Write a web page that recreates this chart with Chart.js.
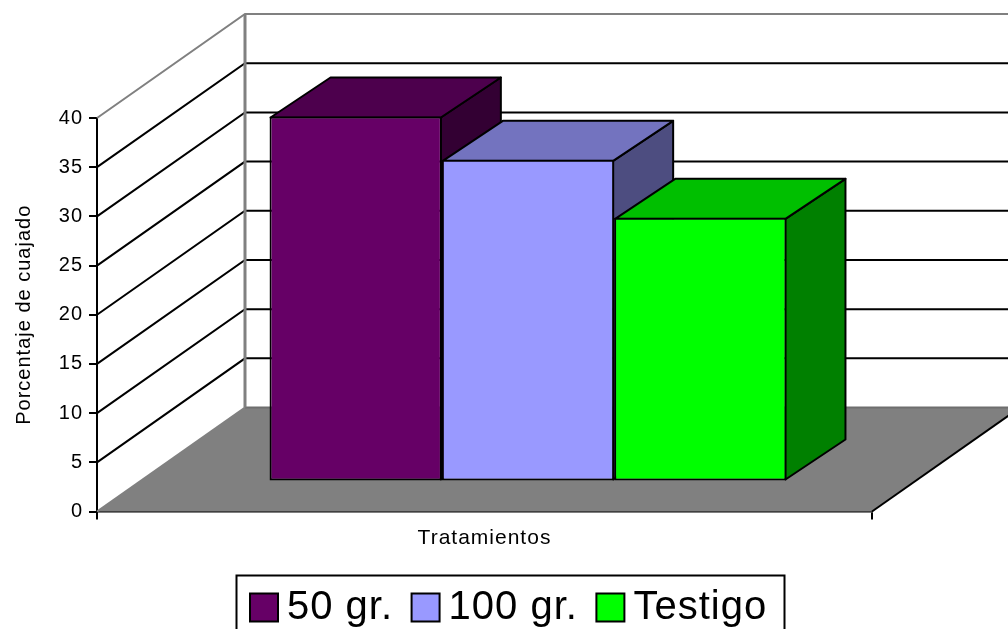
<!DOCTYPE html>
<html lang="es">
<head>
  <meta charset="UTF-8" />
  <title>Porcentaje de cuajado</title>
  <script src="https://cdn.jsdelivr.net/npm/chart.js"></script>
  <style>
    html, body { margin: 0; padding: 0; background: #fff; overflow: hidden; }
    canvas { display: block; }
  </style>
</head>
<body>
  <canvas id="cuajadoChart" width="1008" height="629"></canvas>

  <script>
    const categories = [''];
    const seriesNames = ['50 gr.', '100 gr.', 'Testigo'];
    const values50 = [37.1];
    const values100 = [32.7];
    const valuesTestigo = [26.8];

    const frontColours = ['#660066', '#9999ff', '#00ff00'];
    const topColours = ['#4d004d', '#7373bf', '#00bf00'];
    const sideColours = ['#330033', '#4d4d80', '#008000'];

    // oblique projection: wall depth, bar depth, and where the bars stand on the floor
    const wallDx = 148, wallDy = -104;
    const barDx = 60, barDy = -40;
    const standDx = 43.5, standDy = -30;
    // bar borders are drawn inside the rectangle, the 3D faces meet their centre line
    const borderInset = 1;

    function poly(ctx, pts, fill, stroke, lw) {
      ctx.beginPath();
      pts.forEach((p, i) => i ? ctx.lineTo(p[0], p[1]) : ctx.moveTo(p[0], p[1]));
      ctx.closePath();
      if (fill) { ctx.fillStyle = fill; ctx.fill(); }
      if (stroke) { ctx.strokeStyle = stroke; ctx.lineWidth = lw; ctx.lineJoin = 'round'; ctx.stroke(); }
    }

    function seg(ctx, pts, colour, lw) {
      ctx.beginPath();
      pts.forEach((p, i) => i ? ctx.lineTo(p[0], p[1]) : ctx.moveTo(p[0], p[1]));
      ctx.strokeStyle = colour;
      ctx.lineWidth = lw;
      ctx.stroke();
    }

    const box3d = {
      id: 'box3d',
      beforeLayout(chart) { chart.ctx.letterSpacing = '1px'; },
      afterLayout(chart) {
        // the legend sits lower and further right than the default slot
        const legend = chart.legend;
        legend.left = 231.5;
        legend.right = 1008;
        legend.top = 558;
      },
      beforeDraw(chart) { chart.ctx.letterSpacing = '1px'; },
      beforeDatasetsDraw(chart) {
        const ctx = chart.ctx;
        const area = chart.chartArea;
        const y = chart.scales.y;
        const w = chart.width;
        ctx.save();

        const y0 = y.getPixelForValue(0);
        const backX = area.left + wallDx;

        // floor
        poly(ctx, [[area.left, y0], [area.right, y0],
                   [area.right + wallDx, y0 + wallDy], [backX, y0 + wallDy]], '#808080');
        seg(ctx, [[area.left, y0], [backX, y0 + wallDy]], '#808080', 2);
        seg(ctx, [[backX, y0 + wallDy], [w, y0 + wallDy]], '#6e6e6e', 2);
        seg(ctx, [[area.right, y0], [area.right + wallDx, y0 + wallDy]], '#000', 2);

        // wall grid, the top one is grey like the frame
        y.ticks.forEach(t => {
          if (t.value === 0) return;
          const py = y.getPixelForValue(t.value);
          const colour = t.value === y.max ? '#808080' : '#000';
          seg(ctx, [[area.left, py], [backX, py + wallDy], [w, py + wallDy]], colour, 2);
        });
        seg(ctx, [[backX, y.getPixelForValue(y.max) + wallDy], [backX, y0 + wallDy]], '#808080', 3);

        // tops and sides go first so each front face covers the previous bar's side
        chart.data.datasets.forEach((ds, i) => {
          const bar = chart.getDatasetMeta(i).data[0];
          const left = bar.x - bar.width / 2 + standDx + borderInset;
          const right = bar.x + bar.width / 2 + standDx - borderInset;
          const top = bar.y + standDy + borderInset;
          const base = bar.base + standDy - borderInset;
          poly(ctx, [[right, top], [right + barDx, top + barDy],
                     [right + barDx, base + barDy], [right, base]], sideColours[i], '#000', 2);
          poly(ctx, [[left, top], [left + barDx, top + barDy],
                     [right + barDx, top + barDy], [right, top]], topColours[i], '#000', 2);
        });
        ctx.restore();

        ctx.save();
        ctx.translate(standDx, standDy);
      },
      afterDatasetsDraw(chart) {
        chart.ctx.restore();
      },
      afterDraw(chart) {
        const ctx = chart.ctx;
        ctx.save();
        ctx.strokeStyle = '#000';
        ctx.lineWidth = 2;
        ctx.strokeRect(236.5, 575.5, 548, 70);
        ctx.restore();
      }
    };

    const ctx = document.getElementById('cuajadoChart').getContext('2d');

    new Chart(ctx, {
      type: 'bar',
      plugins: [box3d],
      data: {
        labels: categories,
        datasets: [values50, values100, valuesTestigo].map((vals, i) => ({
          label: seriesNames[i],
          data: vals,
          backgroundColor: frontColours[i],
          borderColor: '#000',
          borderWidth: 2,
          borderSkipped: false,
          categoryPercentage: 0.667,
          barPercentage: 1
        }))
      },
      options: {
        responsive: false,
        animation: false,
        layout: { padding: { top: 118, right: 136, bottom: -40, left: 0 } },
        font: { family: "'Liberation Sans', Arial, sans-serif" },
        plugins: {
          tooltip: { enabled: false },
          legend: {
            position: 'bottom',
            align: 'start',
            labels: {
              color: '#000',
              font: { size: 40, family: "'Liberation Sans', Arial, sans-serif" },
              usePointStyle: true,
              pointStyle: 'rect',
              boxWidth: 6,
              boxHeight: 28,
              padding: 29.5
            }
          }
        },
        scales: {
          x: {
            afterFit(scale) { scale.height = 78; },
            border: { color: '#000', width: 2.5 },
            grid: { color: '#000', lineWidth: 2, tickLength: 8, drawOnChartArea: false },
            ticks: { display: true },
            title: {
              display: true,
              text: 'Tratamientos',
              color: '#000',
              font: { size: 21, family: "'Liberation Sans', Arial, sans-serif" },
              padding: { top: 0, bottom: 39 }
            }
          },
          y: {
            min: 0,
            max: 40,
            afterFit(scale) { scale.width = 97; },
            border: { color: '#000', width: 2 },
            grid: { color: '#000', lineWidth: 2, tickLength: 8, drawOnChartArea: false },
            ticks: {
              stepSize: 5,
              color: '#000',
              padding: 6,
              font: { size: 20, family: "'Liberation Sans', Arial, sans-serif" }
            },
            title: {
              display: true,
              text: 'Porcentaje de cuajado',
              color: '#000',
              font: { size: 20, family: "'Liberation Sans', Arial, sans-serif" },
              padding: { top: 12, bottom: 0 }
            }
          }
        }
      }
    });
  </script>
</body>
</html>
